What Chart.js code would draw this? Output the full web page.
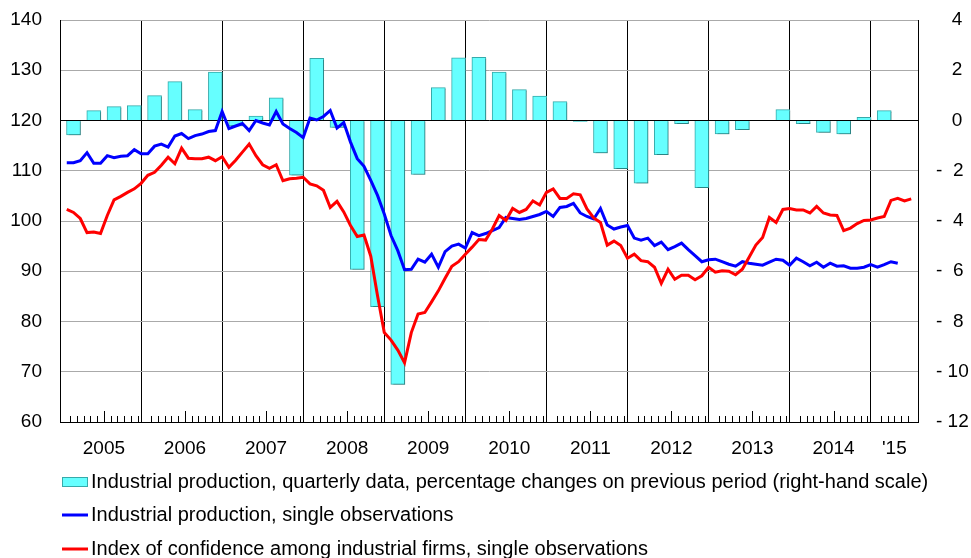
<!DOCTYPE html>
<html>
<head>
<meta charset="utf-8">
<title>Industrial production and confidence</title>
<script src="https://cdn.jsdelivr.net/npm/chart.js"></script>
<style>
  html, body { margin: 0; padding: 0; background: #fff; }
</style>
</head>
<body>
<canvas id="chart" width="971" height="558"></canvas>
<script>
// monthly data Jan 2005 - Jun 2015, quarterly bars 2005Q1 - 2015Q1
const yearLabels = ['2005', '2006', '2007', '2008', '2009', '2010', '2011', '2012', '2013', '2014', "'15"];

const quarterlyChange = [
  -0.57, 0.39, 0.55, 0.59,
  0.99, 1.55, 0.43, 1.93,
  -0.22, 0.18, 0.90, -2.18,
  2.47, -0.28, -5.93, -7.41,
  -10.5, -2.15, 1.31, 2.49,
  2.51, 1.93, 1.23, 0.97,
  0.75, -0.04, -1.29, -1.92,
  -2.49, -1.36, -0.13, -2.67,
  -0.53, -0.36, 0.0, 0.43,
  -0.13, -0.47, -0.53, 0.13,
  0.39
];

const productionIndex = [
  111.6, 111.6, 112.0, 113.6, 111.5, 111.5, 113.0, 112.6, 112.9, 113.0, 114.2, 113.4,
  113.4, 114.9, 115.3, 114.7, 116.9, 117.4, 116.4, 117.0, 117.3, 117.8, 118.0, 121.8,
  118.4, 118.9, 119.4, 118.0, 120.0, 119.5, 119.1, 121.8, 119.3, 118.4, 117.6, 116.6,
  120.5, 120.1, 120.8, 122.0, 118.5, 119.6, 115.7, 112.4, 110.9, 108.1, 105.1, 101.4,
  97.1, 94.1, 90.3, 90.4, 92.4, 91.8, 93.4, 90.8, 93.9, 95.0, 95.4, 94.6,
  97.7, 97.1, 97.5, 98.1, 98.7, 100.7, 100.5, 100.3, 100.5, 100.9, 101.3, 101.9,
  100.9, 102.7, 102.9, 103.5, 101.6, 100.9, 100.4, 102.5, 99.2, 98.4, 98.8, 99.1,
  96.6, 96.2, 96.6, 95.1, 95.8, 94.3, 94.9, 95.6, 94.3, 93.1, 91.9, 92.3,
  92.4, 91.9, 91.4, 91.0, 91.9, 91.6, 91.4, 91.2, 91.8, 92.4, 92.2, 91.2,
  92.6, 91.9, 91.1, 91.8, 90.8, 91.6, 91.0, 91.1, 90.6, 90.6, 90.8, 91.3,
  90.8, 91.3, 91.9, 91.6
];

const confidenceIndex = [
  102.3, 101.7, 100.5, 97.7, 97.8, 97.5, 101.1, 104.2, 104.9, 105.7, 106.4, 107.5,
  109.1, 109.7, 111.1, 112.7, 111.4, 114.5, 112.5, 112.4, 112.4, 112.7, 112.0, 112.8,
  110.7, 112.1, 113.7, 115.3, 113.0, 111.2, 110.5, 111.2, 108.0, 108.4, 108.5, 108.7,
  107.4, 107.0, 106.1, 102.7, 103.9, 101.8, 99.1, 96.9, 97.2, 93.0, 85.1, 77.8,
  76.3, 74.3, 71.8, 77.8, 81.5, 81.8, 83.9, 86.1, 88.6, 91.0, 91.9, 93.4,
  94.8, 96.3, 96.2, 98.4, 101.1, 100.1, 102.5, 101.7, 102.3, 104.0, 103.2, 105.7,
  106.4, 104.5, 104.5, 105.4, 105.2, 102.4, 100.6, 99.7, 95.2, 96.0, 95.1, 92.6,
  93.4, 92.1, 91.9, 90.8, 87.6, 90.4, 88.4, 89.2, 89.2, 88.3, 89.1, 90.8,
  89.8, 90.1, 90.0, 89.3, 90.4, 92.8, 95.2, 96.7, 100.7, 99.7, 102.3, 102.5,
  102.2, 102.2, 101.6, 102.9, 101.6, 101.2, 101.1, 98.1, 98.6, 99.5, 100.1, 100.2,
  100.6, 100.9, 104.1, 104.5, 104.0, 104.4
];

const seriesNames = [
  'Industrial production, quarterly data, percentage changes on previous period (right-hand scale)',
  'Industrial production, single observations',
  'Index of confidence among industrial firms, single observations'
];

const MONTHS = 126;

Chart.defaults.font.family = "'Liberation Sans', Arial, Helvetica, sans-serif";
Chart.defaults.font.size = 19;
Chart.defaults.color = '#000';

function yearLabelFor(v) {
  const j = Math.floor(v / 12);
  if (j >= yearLabels.length) return '';
  const mid = (12 * j + Math.min(12 * j + 12, MONTHS)) / 2;
  return v === mid ? yearLabels[j] : '';
}

function rightLabel(v) {
  const a = Math.abs(v);
  const num = a < 10 ? ' ' + a : String(a);
  return (v < 0 ? '- ' : '  ') + num;
}

// fixed axis widths, and no extra label padding above / below the plot
function fixWidth(w) {
  return s => {
    s.width = w;
    s.paddingTop = 0;
    s.paddingBottom = 0;
  };
}

// grey drop shadow behind the bars
const barShadow = {
  id: 'barShadow',
  beforeDatasetDraw(chart, args) {
    if (args.meta.type !== 'bar') return;
    const ctx = chart.ctx;
    ctx.save();
    ctx.shadowColor = 'rgba(0,0,0,0.22)';
    ctx.shadowOffsetX = 2;
    ctx.shadowOffsetY = 1;
    ctx.shadowBlur = 0;
  },
  afterDatasetDraw(chart, args) {
    if (args.meta.type !== 'bar') return;
    chart.ctx.restore();
  }
};

// small month ticks standing up from the bottom axis
const monthTicks = {
  id: 'monthTicks',
  beforeDatasetsDraw(chart) {
    const {ctx, chartArea, scales} = chart;
    ctx.save();
    ctx.strokeStyle = '#000';
    ctx.lineWidth = 1;
    ctx.beginPath();
    for (let k = 1; k < MONTHS; k++) {
      if (k % 12 === 0) continue;
      const x = Math.round(scales.x.getPixelForValue(k)) + 0.5;
      const len = k % 12 === 6 ? 11 : 6;
      ctx.moveTo(x, chartArea.bottom);
      ctx.lineTo(x, chartArea.bottom - len);
    }
    ctx.stroke();
    ctx.restore();
  }
};

// legend stacked in three rows under the x axis
const stackedLegend = {
  id: 'stackedLegend',
  afterDraw(chart) {
    const {ctx, chartArea} = chart;
    const rows = [60, 93, 127];
    const x0 = chartArea.left + 2;
    ctx.save();
    ctx.font = "20px 'Liberation Sans', Arial, sans-serif";
    ctx.textBaseline = 'middle';
    chart.data.datasets.forEach((ds, i) => {
      const y = chartArea.bottom + rows[i];
      if (ds.type === 'bar') {
        ctx.fillStyle = ds.backgroundColor;
        ctx.fillRect(x0, y - 5, 26, 10);
        ctx.strokeStyle = ds.borderColor;
        ctx.lineWidth = 1;
        ctx.strokeRect(x0 + 0.5, y - 4.5, 25, 9);
      } else {
        ctx.strokeStyle = ds.borderColor;
        ctx.lineWidth = 3;
        ctx.beginPath();
        ctx.moveTo(x0, y);
        ctx.lineTo(x0 + 26, y);
        ctx.stroke();
      }
      ctx.fillStyle = '#000';
      ctx.fillText(ds.label, x0 + 29, y);
    });
    ctx.restore();
  }
};

const ctx = document.getElementById('chart').getContext('2d');
new Chart(ctx, {
  type: 'bar',
  data: {
    datasets: [
      {
        type: 'bar',
        label: seriesNames[0],
        data: quarterlyChange.map((v, q) => ({x: q * 3 + 1.5, y: v})),
        yAxisID: 'y2',
        backgroundColor: '#66FFFF',
        borderColor: '#36AAAA',
        borderWidth: 1,
        barThickness: 14,
        order: 3
      },
      {
        type: 'line',
        label: seriesNames[1],
        data: productionIndex.map((v, i) => ({x: i + 0.5, y: v})),
        yAxisID: 'y',
        borderColor: '#0000FF',
        borderWidth: 3,
        pointRadius: 0,
        tension: 0,
        order: 2
      },
      {
        type: 'line',
        label: seriesNames[2],
        data: confidenceIndex.map((v, i) => ({x: i + 0.5, y: v})),
        yAxisID: 'y',
        borderColor: '#FF0000',
        borderWidth: 3,
        pointRadius: 0,
        tension: 0,
        order: 1
      }
    ]
  },
  options: {
    responsive: false,
    animation: false,
    layout: { padding: { top: 20, bottom: 96, left: 0, right: 0 } },
    plugins: { legend: { display: false }, tooltip: { enabled: false } },
    scales: {
      x: {
        type: 'linear',
        min: 0,
        max: MONTHS,
        afterBuildTicks: s => {
          s.ticks = [];
          for (let k = 0; k <= MONTHS; k++) s.ticks.push({value: k});
        },
        afterFit: s => { s.height = 40; },
        grid: {
          color: c => (c.tick && c.tick.value % 12 === 0) ? '#000' : 'rgba(0,0,0,0)',
          drawTicks: false
        },
        border: { color: '#000' },
        ticks: { autoSkip: false, maxRotation: 0, padding: 15, callback: v => yearLabelFor(v) }
      },
      y: {
        position: 'left',
        min: 60,
        max: 140,
        afterFit: fixWidth(60),
        ticks: { stepSize: 10, padding: 18 },
        grid: { color: c => c.tick.value === 120 ? '#000' : '#AAAAAA', drawTicks: false },
        border: { color: '#000' }
      },
      y2: {
        position: 'right',
        min: -12,
        max: 4,
        afterFit: fixWidth(53),
        ticks: { stepSize: 2, padding: 18, callback: v => rightLabel(v) },
        grid: { drawOnChartArea: false, drawTicks: false },
        border: { color: '#000' }
      }
    }
  },
  plugins: [barShadow, monthTicks, stackedLegend]
});
</script>
</body>
</html>
